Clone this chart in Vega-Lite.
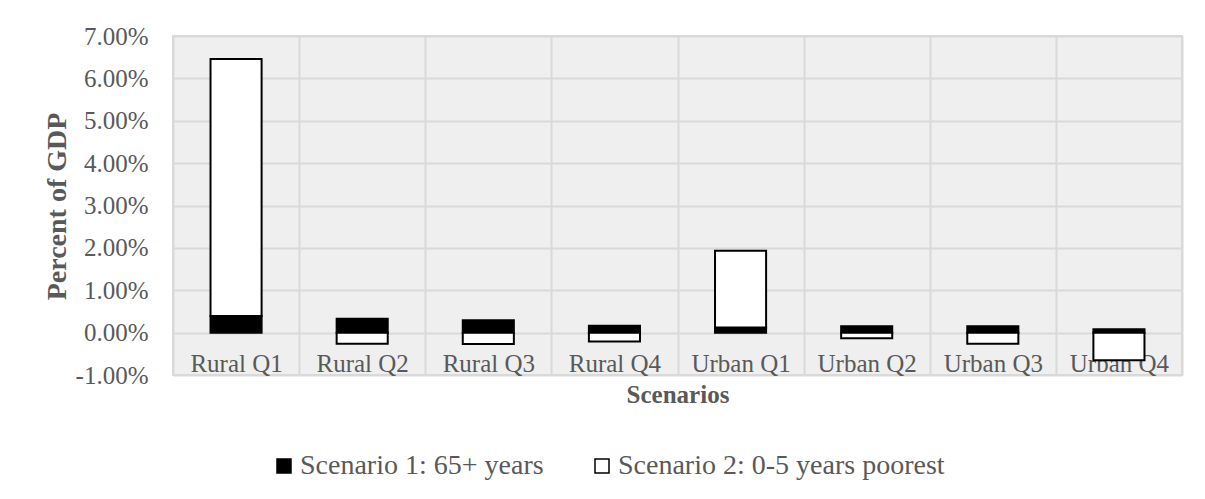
{
  "$schema": "https://vega.github.io/schema/vega-lite/v6.json",
  "width": 1009,
  "height": 339,
  "autosize": {"type": "none"},
  "padding": {"left": 173, "top": 36, "right": 23, "bottom": 124},
  "background": "white",
  "config": {
    "font": "Liberation Serif",
    "view": {"fill": "#efefef", "stroke": "#d9d9d9", "strokeWidth": 2}
  },
  "data": {
    "values": [
      {"region": "Rural Q1", "scenario": "Scenario 1: 65+ years", "value": 0.0039},
      {"region": "Rural Q1", "scenario": "Scenario 2: 0-5 years poorest", "value": 0.0607},
      {"region": "Rural Q2", "scenario": "Scenario 1: 65+ years", "value": 0.0033},
      {"region": "Rural Q2", "scenario": "Scenario 2: 0-5 years poorest", "value": -0.0026},
      {"region": "Rural Q3", "scenario": "Scenario 1: 65+ years", "value": 0.0029},
      {"region": "Rural Q3", "scenario": "Scenario 2: 0-5 years poorest", "value": -0.0027},
      {"region": "Rural Q4", "scenario": "Scenario 1: 65+ years", "value": 0.0016},
      {"region": "Rural Q4", "scenario": "Scenario 2: 0-5 years poorest", "value": -0.0021},
      {"region": "Urban Q1", "scenario": "Scenario 1: 65+ years", "value": 0.0012},
      {"region": "Urban Q1", "scenario": "Scenario 2: 0-5 years poorest", "value": 0.0181},
      {"region": "Urban Q2", "scenario": "Scenario 1: 65+ years", "value": 0.0015},
      {"region": "Urban Q2", "scenario": "Scenario 2: 0-5 years poorest", "value": -0.0013},
      {"region": "Urban Q3", "scenario": "Scenario 1: 65+ years", "value": 0.0015},
      {"region": "Urban Q3", "scenario": "Scenario 2: 0-5 years poorest", "value": -0.0026},
      {"region": "Urban Q4", "scenario": "Scenario 1: 65+ years", "value": 0.0008},
      {"region": "Urban Q4", "scenario": "Scenario 2: 0-5 years poorest", "value": -0.0065}
    ]
  },
  "mark": {"type": "bar", "stroke": "black", "strokeWidth": 2, "width": {"band": 0.405}},
  "encoding": {
    "x": {
      "field": "region",
      "type": "nominal",
      "sort": null,
      "scale": {"paddingInner": 0, "paddingOuter": 0},
      "axis": {
        "title": "Scenarios",
        "titleFont": "Liberation Serif",
        "titleFontSize": 25,
        "titleFontWeight": "bold",
        "titleColor": "#595959",
        "titleBaseline": "alphabetic",
        "titleY": 27,
        "labelAngle": 0,
        "labelFont": "Liberation Serif",
        "labelFontSize": 25,
        "labelColor": "#595959",
        "labelBaseline": "alphabetic",
        "labelPadding": -4,
        "ticks": false,
        "domain": false,
        "grid": true,
        "tickBand": "extent",
        "gridColor": "#d9d9d9",
        "gridWidth": 2
      }
    },
    "y": {
      "field": "value",
      "type": "quantitative",
      "stack": "zero",
      "scale": {"domain": [-0.01, 0.07], "nice": false},
      "axis": {
        "title": "Percent of GDP",
        "titleFont": "Liberation Serif",
        "titleFontSize": 28,
        "titleFontWeight": "bold",
        "titleColor": "#595959",
        "titleBaseline": "alphabetic",
        "titleAngle": -90,
        "titleX": -108,
        "titleY": 170,
        "values": [-0.01, 0, 0.01, 0.02, 0.03, 0.04, 0.05, 0.06, 0.07],
        "labelExpr": "replace(format(datum.value, '.2%'), '\u2212', '-')",
        "labelFont": "Liberation Serif",
        "labelFontSize": 25,
        "labelColor": "#595959",
        "labelPadding": 25,
        "ticks": false,
        "domain": false,
        "grid": true,
        "gridColor": "#d9d9d9",
        "gridWidth": 2
      }
    },
    "order": {"field": "scenario", "sort": "ascending"},
    "color": {
      "field": "scenario",
      "type": "nominal",
      "scale": {"domain": ["Scenario 1: 65+ years", "Scenario 2: 0-5 years poorest"], "range": ["black", "white"]},
      "legend": {
        "title": null,
        "orient": "none",
        "direction": "horizontal",
        "legendX": 97,
        "legendY": 416,
        "padding": 0,
        "symbolType": "square",
        "symbolSize": 196,
        "symbolStrokeColor": "black",
        "symbolStrokeWidth": 1.5,
        "labelFont": "Liberation Serif",
        "labelFontSize": 28,
        "labelColor": "#595959",
        "labelOffset": 2,
        "columnPadding": 44,
        "labelLimit": 500
      }
    }
  }
}
